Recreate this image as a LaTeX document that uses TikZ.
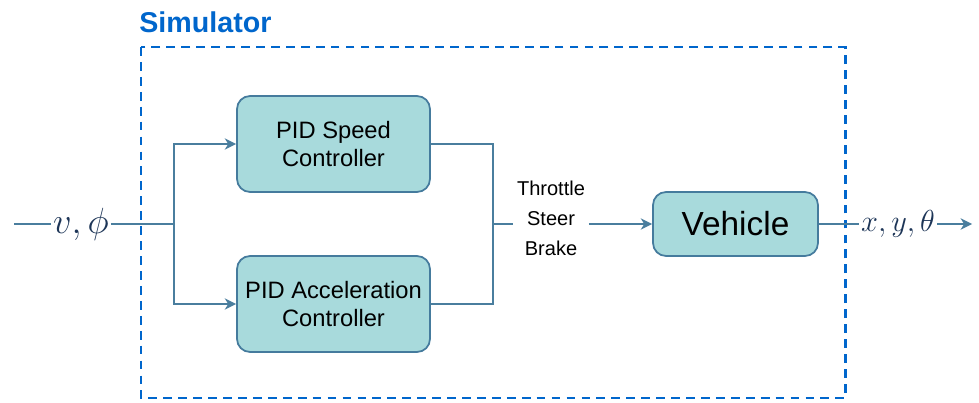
\documentclass[tikz,border=0pt]{standalone}
\usepackage{fontspec}
\setmainfont{Liberation Sans}
\usetikzlibrary{arrows.meta}

\begin{document}
\begin{tikzpicture}[
  x=0.02cm, y=-0.02cm,
  every node/.style={font=\fontsize{13.5}{16}\selectfont},
  block/.style={draw=boxline, fill=boxfill, line width=1pt,
    rounded corners=0.26cm, align=center, inner sep=0pt},
  wire/.style={draw=wireblue, line width=0.9pt},
  arr/.style={wire, -{Stealth[length=6.5pt, width=6.5pt, inset=2pt]}},
  mathlbl/.style={text=mathnavy, inner sep=1pt,
    font=\fontsize{18}{20}\selectfont},
]

\definecolor{boxfill}{RGB}{168,218,220}
\definecolor{boxline}{RGB}{69,123,157}
\definecolor{wireblue}{RGB}{74,126,158}
\definecolor{simblue}{RGB}{0,102,204}
\definecolor{mathnavy}{RGB}{29,53,87}

% pixel grid of the figure (979 x 402), y grows downward
\useasboundingbox (0,0) rectangle (979,402);

% ============================================================
% SIMULATOR FRAME
% ============================================================
\draw[simblue, line width=1.7pt, dash pattern=on 5pt off 3.5pt]
  (141,47) rectangle (845,398);
\node[anchor=base west, inner sep=0pt, text=simblue,
      font=\fontsize{16.3}{18}\selectfont\bfseries]
  (simlabel) at (139,33) {Simulator};

% ============================================================
% BLOCKS
% ============================================================
\node[block, minimum width=3.86cm, minimum height=1.92cm]
  (speed) at (333.5,144) {PID Speed\\Controller};
\node[block, minimum width=3.86cm, minimum height=1.92cm]
  (accel) at (333.5,304) {PID Acceleration\\Controller};
\node[block, minimum width=3.3cm, minimum height=1.28cm,
      font=\fontsize{19}{22}\selectfont]
  (vehicle) at (735.5,224) {Vehicle};

% ============================================================
% SIGNALS
% ============================================================
\node[mathlbl, font=\fontsize{20}{22}\selectfont] (vphi) at (81,224) {$v,\phi$};
\node[mathlbl] (xyt) at (898,224) {$x,y,\theta$};
\node[align=center, inner xsep=2pt, inner ysep=0pt,
      font=\fontsize{11.4}{17}\selectfont]
  (sig) at (551,218) {Throttle\\Steer\\Brake};

\coordinate (in) at (14,224);
\coordinate (split) at (174,224);
\coordinate (merge) at (493,224);
\coordinate (out) at (972,224);

% input side
\draw[wire] (in) -- (vphi.west);
\draw[wire] (vphi.east) -- (split);
\draw[arr] (split) |- (speed.west);
\draw[arr] (split) |- (accel.west);

% controllers into vehicle
\draw[wire] (speed.east) -| (merge);
\draw[wire] (accel.east) -| (merge);
\draw[wire] (merge) -- (sig.west |- merge);
\draw[arr] (sig.east |- merge) -- (vehicle.west);

% output side
\draw[wire] (vehicle.east) -- (xyt.west);
\draw[arr] (xyt.east) -- (out);

\end{tikzpicture}
\end{document}
